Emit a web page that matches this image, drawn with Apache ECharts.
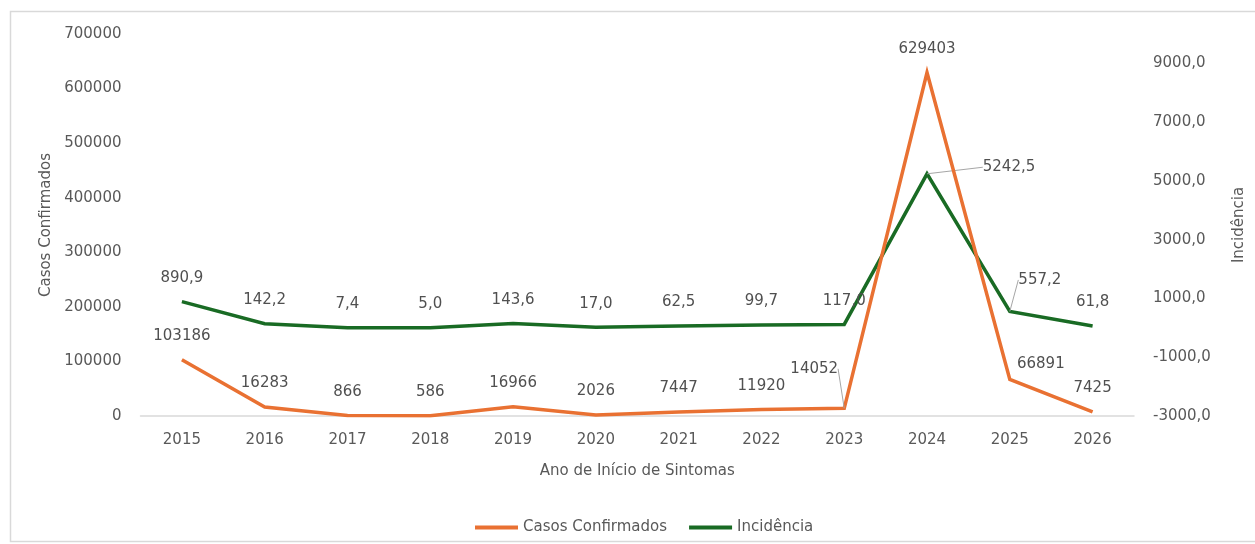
<!DOCTYPE html>
<html>
<head>
<meta charset="utf-8">
<script src="https://cdn.jsdelivr.net/npm/echarts@6/dist/echarts.min.js"></script>
<style>
  html, body { margin: 0; padding: 0; background: #ffffff; }
  #chart { width: 1255px; height: 544px; }
</style>
</head>
<body>
<div id="chart"></div>
<script>
// ---- data ----
const years = ['2015','2016','2017','2018','2019','2020','2021','2022','2023','2024','2025','2026'];
const casosConfirmados = [103186, 16283, 866, 586, 16966, 2026, 7447, 11920, 14052, 629403, 66891, 7425];
const incidencia = [890.9, 142.2, 7.4, 5.0, 143.6, 17.0, 62.5, 99.7, 117.0, 5242.5, 557.2, 61.8];
const leftTicks = { min: 0, max: 700000, interval: 100000 };
const rightTicks = { min: -3000, max: 10000, interval: 1000 };

// ---- label placement tweaks (layout only) ----
const casosLabelMoves = { 8: [-30, -16, true], 10: [31, 8, false] };
const incLabelMoves = { 9: [82, 17, true], 10: [30, -8, true] };

const ORANGE = '#E97132';
const GREEN = '#196B24';
const TXT = '#595959';
const LBL = '#505050';
const FONT = 'DejaVu Sans';

function buildData(values, moves) {
  return values.map((v, i) => {
    const m = moves[i];
    if (m && m[2]) return { value: v, labelLine: { show: true } };
    return { value: v };
  });
}
function layoutFn(moves) {
  return function (p) {
    const m = moves[p.dataIndex];
    return m ? { dx: m[0], dy: m[1] } : {};
  };
}

const chart = echarts.init(document.getElementById('chart'), null, { renderer: 'canvas' });
chart.setOption({
  animation: false,
  backgroundColor: '#ffffff',
  textStyle: { fontFamily: FONT },
  graphic: [{
    type: 'rect', z: -10, silent: true,
    shape: { x: 10.5, y: 11.5, width: 1300, height: 530 },
    style: { fill: '#ffffff', stroke: '#d9d9d9', lineWidth: 1.5 }
  }],
  grid: { left: 140.5, right: 119.5, top: 34, bottom: 128, containLabel: false },
  legend: {
    left: 470, top: 515,
    itemWidth: 43, itemHeight: 4, itemGap: 22,
    icon: 'rect',
    textStyle: { color: TXT, fontSize: 15, fontFamily: FONT },
    data: ['Casos Confirmados', 'Incidência']
  },
  xAxis: {
    type: 'category',
    data: years,
    boundaryGap: true,
    name: 'Ano de Início de Sintomas',
    nameLocation: 'middle',
    nameGap: 48,
    nameTextStyle: { color: TXT, fontSize: 15, fontFamily: FONT },
    axisLine: { onZero: false, lineStyle: { color: '#d9d9d9', width: 1.5 } },
    axisTick: { show: false },
    axisLabel: { color: TXT, fontSize: 15, margin: 17, fontFamily: FONT },
    splitLine: { show: false }
  },
  yAxis: [{
    type: 'value',
    min: leftTicks.min, max: leftTicks.max, interval: leftTicks.interval,
    name: 'Casos Confirmados',
    nameLocation: 'middle',
    nameGap: 84,
    nameRotate: 90,
    nameTextStyle: { color: TXT, fontSize: 15, fontFamily: FONT },
    axisLine: { show: false },
    axisTick: { show: false },
    splitLine: { show: false },
    axisLabel: { color: TXT, fontSize: 15, margin: 19, fontFamily: FONT,
      formatter: v => String(v) }
  }, {
    type: 'value',
    position: 'right',
    min: rightTicks.min, max: rightTicks.max, interval: rightTicks.interval,
    name: 'Incidência',
    nameLocation: 'middle',
    nameGap: 98,
    nameRotate: 90,
    nameTextStyle: { color: TXT, fontSize: 15, fontFamily: FONT },
    axisLine: { show: false },
    axisTick: { show: false },
    splitLine: { show: false },
    axisLabel: {
      color: TXT, fontSize: 15, margin: 19, fontFamily: FONT,
      formatter: function (v) {
        const k = Math.round(v / 1000);
        if (Math.abs(k) % 2 !== 1) return '';
        return v.toFixed(1).replace('.', ',');
      }
    }
  }],
  series: [{
    name: 'Casos Confirmados',
    type: 'line',
    yAxisIndex: 0,
    data: buildData(casosConfirmados, casosLabelMoves),
    showSymbol: true,
    symbol: 'circle',
    symbolSize: 0.1,
    lineStyle: { color: ORANGE, width: 3.5, join: 'miter' },
    itemStyle: { color: ORANGE },
    label: {
      show: true, position: 'top', distance: 16,
      color: LBL, fontSize: 15, fontFamily: FONT,
      formatter: p => String(p.value)
    },
    labelLine: { show: false, lineStyle: { color: '#a6a6a6', width: 1 } },
    labelLayout: layoutFn(casosLabelMoves),
    z: 3
  }, {
    name: 'Incidência',
    type: 'line',
    yAxisIndex: 1,
    data: buildData(incidencia, incLabelMoves),
    showSymbol: true,
    symbol: 'circle',
    symbolSize: 0.1,
    lineStyle: { color: GREEN, width: 3.5, join: 'miter' },
    itemStyle: { color: GREEN },
    label: {
      show: true, position: 'top', distance: 16,
      color: LBL, fontSize: 15, fontFamily: FONT,
      formatter: p => p.value.toFixed(1).replace('.', ',')
    },
    labelLine: { show: false, lineStyle: { color: '#a6a6a6', width: 1 } },
    labelLayout: layoutFn(incLabelMoves),
    z: 2
  }]
});
</script>
</body>
</html>
